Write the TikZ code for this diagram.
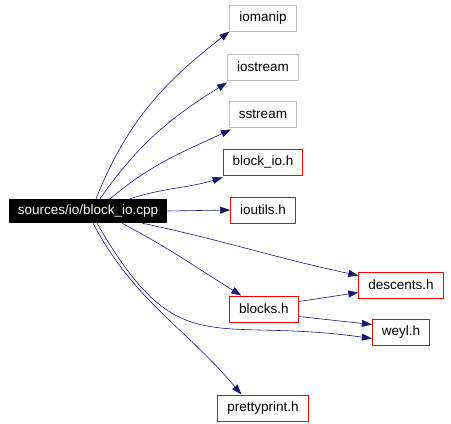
\documentclass[tikz,border=0pt]{standalone}
\usepackage{fontspec}
\setmainfont{Liberation Sans}
\usetikzlibrary{arrows.meta}

\definecolor{midnight}{HTML}{191970}
\definecolor{boxgray}{HTML}{BFBFBF}

\tikzset{
  header/.style={rectangle,draw=red,line width=1pt,inner xsep=9.5pt,minimum height=26pt,font=\fontsize{13.5}{15}\selectfont},
  sysheader/.style={header,draw=boxgray},
  source/.style={rectangle,fill=black,text=white,inner xsep=9pt,minimum height=24pt,font=\fontsize{13.5}{15}\selectfont},
  dep/.style={draw=midnight,line width=0.6pt,-{Triangle[length=10pt,width=7pt]}}
}

\begin{document}
\begin{tikzpicture}[x=1pt,y=-1pt]
\useasboundingbox (0,0) rectangle (451,424);
\node [source] (root) at (88,211) {sources/io/block\_io.cpp};
\node [sysheader] (iomanip) at (263,18) {iomanip};
\node [sysheader] (iostream) at (263,67) {iostream};
\node [sysheader] (sstream) at (263,114) {sstream};
\node [header] (blockio) at (263,162) {block\_io.h};
\node [header] (ioutils) at (263,210) {ioutils.h};
\node [header] (descents) at (401,285) {descents.h};
\node [header] (blocks) at (264,309) {blocks.h};
\node [header] (weyl) at (401,332) {weyl.h};
\node [header] (prettyprint) at (263,408) {prettyprint.h};

\draw [dep] ([xshift=8pt]root.north) to[out=68,in=218] (iomanip.south west);
\draw [dep] ([xshift=12pt]root.north) to[out=55,in=212] ([yshift=-2pt]iostream.south west);
\draw [dep] ([xshift=22pt]root.north) to[out=40,in=205] ([xshift=2pt,yshift=-2pt]sstream.south west);
\draw [dep] ([xshift=42pt]root.north) to[out=18,in=197] ([yshift=-2pt]blockio.south west);
\draw [dep] (root.east) -- (ioutils.west);
\draw [dep] ([xshift=-25pt]root.south east) to[out=-12,in=168] ([yshift=-4pt]descents.north west);
\draw [dep] ([xshift=34pt]root.south) to[out=-28,in=148] ([xshift=12pt]blocks.north west);
\draw [dep] ([xshift=9pt]root.south) to[out=-60,in=172,looseness=1.4] ([yshift=7pt]weyl.south west);
\draw [dep] ([xshift=5pt]root.south) to[out=-62,in=130] ([xshift=24pt]prettyprint.north west);
\draw [dep] ([yshift=-6pt]blocks.north east) -- ([yshift=6pt]descents.south west);
\draw [dep] ([yshift=6pt]blocks.south east) -- ([yshift=-6pt]weyl.north west);
\end{tikzpicture}
\end{document}
